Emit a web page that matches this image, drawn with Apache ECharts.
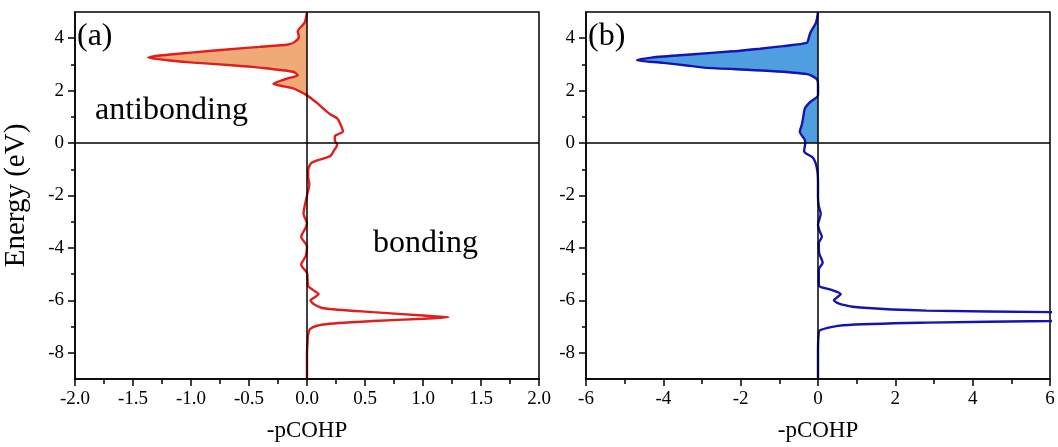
<!DOCTYPE html>
<html>
<head>
<meta charset="utf-8">
<script src="https://cdn.jsdelivr.net/npm/echarts@6/dist/echarts.min.js"></script>
<style>
  html, body { margin: 0; padding: 0; background: #fff; }
  #main { width: 1058px; height: 447px; }
</style>
</head>
<body>
<div id="main"></div>
<script>
// panel (a) -pCOHP vs energy
const energyA = [5, 4.6, 4.26, 4.07, 3.88, 3.76, 3.67, 3.57, 3.45, 3.35, 3.26, 3.16, 3.07, 2.97, 2.88, 2.72, 2.59, 2.45, 2.26, 2.09, 1.82,
  1.55, 1.32, 1.1, 0.94, 0.7, 0.44, 0.26, 0.1, -0.06, -0.3, -0.5, -0.75, -1.05, -1.3, -1.57, -2.0, -2.4, -2.7, -3.07, -3.3, -3.57,
  -3.95, -4.3, -4.64, -4.95, -5.2, -5.45, -5.6, -5.76, -5.9, -6.0, -6.15, -6.3, -6.45, -6.58, -6.64, -6.7, -6.79, -6.92, -7.08,
  -7.3, -7.6, -8, -8.5, -9];
const cohpA = [0, -0.02, -0.08, -0.07, -0.10, -0.16, -0.41, -0.69, -1.0, -1.25, -1.37, -1.2, -0.98, -0.65, -0.41, -0.12, -0.08, -0.18, -0.29, -0.12, 0,
  0.08, 0.14, 0.2, 0.26, 0.29, 0.31, 0.24, 0.24, 0.26, 0.23, 0.2, 0.04, 0.01, 0.01, 0.02, 0.0, -0.02, -0.03, 0, -0.02, -0.05,
  0, -0.01, -0.05, 0, 0.005, 0.01, 0.05, 0.1, 0.06, 0.03, 0.06, 0.14, 0.57, 1.0, 1.22, 1.0, 0.57, 0.14, 0.03,
  0.01, 0.005, 0, 0, 0];
const fillFromA = 1.82;

// panel (b)
const energyB = [5, 4.6, 4.2, 3.95, 3.82, 3.7, 3.6, 3.5, 3.38, 3.26, 3.16, 3.06, 2.96, 2.88, 2.76, 2.63, 2.44, 2.2, 1.82, 1.57, 1.32, 1.0,
  0.69, 0.44, 0.12, 0, -0.31, -0.56, -0.94, -1.5, -2.07, -2.4, -2.7, -3.12, -3.35, -3.57, -3.82, -4.2, -4.57, -4.82, -5.2, -5.45,
  -5.6, -5.76, -5.88, -6.0, -6.15, -6.27, -6.39, -6.45, -6.52, -6.6, -6.7, -6.79, -6.85, -6.95, -7.14, -7.4, -8, -9];
const cohpB = [0, -0.05, -0.2, -0.25, -0.29, -0.9, -1.5, -2.2, -3.3, -4.3, -4.68, -4.0, -3.4, -2.95, -1.33, -0.28, -0.03, 0, 0, -0.2, -0.34, -0.38,
  -0.42, -0.47, -0.34, -0.33, -0.36, -0.13, -0.03, 0, 0, 0.02, 0.07, 0, 0.04, 0.1, 0.02, 0.03, 0.12, 0.02, 0.02, 0.03,
  0.35, 0.59, 0.5, 0.41, 0.6, 1.09, 2.81, 6.0, 9, 10, 9, 6.0, 2.81, 0.65, 0.05, 0.01, 0, 0];
const fillFromB = 0;

const energyTicks = [-8, -6, -4, -2, 0, 2, 4];
const energyMinor = [-7, -5, -3, -1, 1, 3];

const font = "'Liberation Serif', 'Times New Roman', serif";

function pairs(xs, es) {
  return es.map((e, i) => [xs[i], e]);
}

function fillPoly(data, from) {
  const pts = data.filter(p => p[1] >= from);
  pts.push([0, pts[pts.length - 1][1]]);
  pts.push([0, pts[0][1]]);
  return pts;
}

const dataA = pairs(cohpA, energyA);
const dataB = pairs(cohpB, energyB);

function xAxis(idx, min, max, interval, decimals) {
  return {
    type: 'value', gridIndex: idx, min: min, max: max, interval: interval,
    name: '-pCOHP', nameLocation: 'middle', nameGap: 40,
    nameTextStyle: { fontFamily: font, fontSize: 23, color: '#000' },
    axisLine: { onZero: false, lineStyle: { color: '#000', width: 1.5 } },
    axisTick: { length: 7, lineStyle: { color: '#000', width: 1.5 } },
    minorTick: { show: true, splitNumber: 2, length: 5, lineStyle: { color: '#000', width: 1.5 } },
    axisLabel: { fontFamily: font, fontSize: 19, color: '#000', margin: 11,
      formatter: v => v.toFixed(decimals) },
    splitLine: { show: false }
  };
}

function yAxes(idx, withName) {
  return [{
    type: 'value', gridIndex: idx, min: -9, max: 5,
    name: withName ? 'Energy (eV)' : '', nameLocation: 'middle', nameGap: 44,
    nameTextStyle: { fontFamily: font, fontSize: 29, color: '#000' },
    axisLine: { onZero: false, lineStyle: { color: '#000', width: 1.5 } },
    axisTick: { length: 7, customValues: energyTicks, lineStyle: { color: '#000', width: 1.5 } },
    axisLabel: { fontFamily: font, fontSize: 19, color: '#000', margin: 11, customValues: energyTicks },
    splitLine: { show: false }
  }, {
    type: 'value', gridIndex: idx, min: -9, max: 5, position: 'left',
    axisLine: { show: false, onZero: false },
    axisTick: { length: 4, customValues: energyMinor, lineStyle: { color: '#000', width: 1.5 } },
    axisLabel: { show: false },
    splitLine: { show: false }
  }];
}

function zeroLines() {
  return {
    symbol: 'none', silent: true, animation: false,
    label: { show: false },
    lineStyle: { color: '#000', width: 1.5, type: 'solid' },
    data: [{ xAxis: 0 }, { yAxis: 0 }]
  };
}

function fillSeries(xi, yi, poly, color) {
  return {
    type: 'custom', xAxisIndex: xi, yAxisIndex: yi, data: [[0, 0]], z: 1, clip: true,
    renderItem: (params, api) => ({
      type: 'polygon',
      shape: { points: poly.map(p => api.coord(p)) },
      style: { fill: color }
    })
  };
}

const chart = echarts.init(document.getElementById('main'), null, { renderer: 'canvas' });

chart.setOption({
  backgroundColor: '#fff',
  animation: false,
  grid: [
    { left: 75, right: 519, top: 12, bottom: 62, show: true, borderColor: '#000', borderWidth: 1.5 },
    { left: 586, right: 8, top: 12, bottom: 62, show: true, borderColor: '#000', borderWidth: 1.5 }
  ],
  xAxis: [xAxis(0, -2, 2, 0.5, 1), xAxis(1, -6, 6, 2, 0)],
  yAxis: [...yAxes(0, true), ...yAxes(1, false)],
  graphic: [
    { type: 'text', left: 77, top: 21, style: { text: '(a)', font: "32px 'Liberation Serif', serif", fill: '#000' } },
    { type: 'text', left: 95, top: 95, style: { text: 'antibonding', font: "32px 'Liberation Serif', serif", fill: '#000' } },
    { type: 'text', left: 373, top: 228, style: { text: 'bonding', font: "32px 'Liberation Serif', serif", fill: '#000' } },
    { type: 'text', left: 588, top: 21, style: { text: '(b)', font: "32px 'Liberation Serif', serif", fill: '#000' } }
  ],
  series: [
    fillSeries(0, 0, fillPoly(dataA, fillFromA), '#f0aa78'),
    {
      type: 'line', xAxisIndex: 0, yAxisIndex: 0, data: dataA, smooth: 0.25, showSymbol: false, z: 3,
      lineStyle: { color: '#e01e1e', width: 2.4 }, markLine: zeroLines()
    },
    fillSeries(1, 2, fillPoly(dataB, fillFromB), '#4f9fe0'),
    {
      type: 'line', xAxisIndex: 1, yAxisIndex: 2, data: dataB, smooth: 0.25, showSymbol: false, z: 3,
      lineStyle: { color: '#1414b4', width: 2.4 }, markLine: zeroLines()
    }
  ]
});
</script>
</body>
</html>
